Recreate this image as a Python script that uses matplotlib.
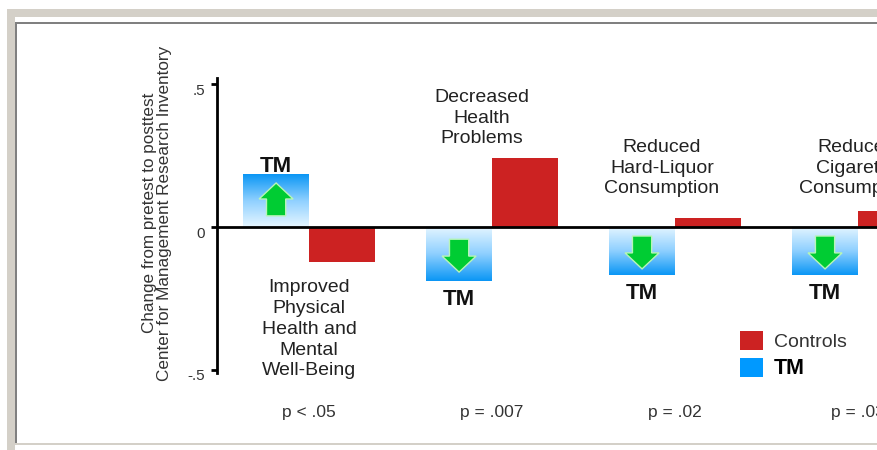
import numpy as np
import matplotlib
matplotlib.use("Agg")
import matplotlib.pyplot as plt
import matplotlib.transforms as mtransforms
from matplotlib.patches import Rectangle, Patch
from matplotlib.colors import LinearSegmentedColormap

plt.rcParams['font.family'] = ['Liberation Sans', 'DejaVu Sans']

# data
categories = ["Improved\nPhysical\nHealth and\nMental\nWell-Being",
              "Decreased\nHealth\nProblems",
              "Reduced\nHard-Liquor\nConsumption",
              "Reduced\nCigarette\nConsumption"]
tm_values = [0.182, -0.189, -0.168, -0.168]
control_values = [-0.122, 0.241, 0.031, 0.056]
p_labels = ["p < .05", "p = .007", "p = .02", "p = .03"]
y_ticks = [-0.5, 0, 0.5]
y_tick_labels = ["-.5", "0", ".5"]

# label placement (data coords)
cat_pos = [(0.0, -0.357), (0.945, 0.381), (1.929, 0.206), (2.99, 0.206)]

W, H = 877, 450
fig = plt.figure(figsize=(W / 100, H / 100), dpi=100)


def frame_rect(x0, y0, x1, y1, color):
    fig.add_artist(Rectangle((x0 / W, 1 - y1 / H), (x1 - x0) / W, (y1 - y0) / H,
                             transform=fig.transFigure, facecolor=color,
                             edgecolor='none', zorder=0))


gray = '#d4d0c8'
frame_rect(7, 9, 877, 17, gray)
frame_rect(7, 9, 15, 450, gray)
frame_rect(15, 443, 877, 445, gray)
frame_rect(15, 22, 16.5, 443, '#808080')
frame_rect(15, 22, 877, 24, '#808080')

ax = fig.add_axes([217 / W, 1 - 373 / H, 660 / W, 295 / H])
ax.patch.set_visible(False)

x = np.arange(len(categories))
bw = 0.36

ax.bar(x + bw / 2, control_values, width=bw, color='#cc2222', zorder=2)
tm_bars = ax.bar(x - bw / 2, tm_values, width=bw, color='none', edgecolor='none')

tm_cmap = LinearSegmentedColormap.from_list('tm', ['#e6f6ff', '#8fd0ff', '#0a96f5'])
grad = np.linspace(0, 1, 256).reshape(-1, 1)
for bar in tm_bars:
    x0 = bar.get_x()
    x1 = x0 + bar.get_width()
    v = bar.get_height()
    if v >= 0:
        ax.imshow(grad, cmap=tm_cmap, extent=[x0, x1, 0, v], origin='lower',
                  aspect='auto', zorder=2, interpolation='bilinear')
    else:
        ax.imshow(grad[::-1], cmap=tm_cmap, extent=[x0, x1, v, 0], origin='lower',
                  aspect='auto', zorder=2, interpolation='bilinear')
    cx = x0 + bar.get_width() / 2
    s = 1 if v >= 0 else -1
    cy = v * 0.53
    ax.arrow(cx, cy - s * 0.0575, 0, s * 0.115, width=0.105, head_width=0.186,
             head_length=0.056, length_includes_head=True, fc='#00cc33',
             ec='#b8f5b8', lw=1, zorder=3)
    ax.text(cx, v + (0.031 if v >= 0 else -0.066), "TM", ha='center', va='center',
            fontsize=16, fontweight='bold', color='#111111')

ax.set_xlim(-0.503, 3.104)
ax.set_ylim(-0.5105, 0.521)

ax.axhline(0, color='black', lw=2, zorder=4)
for side in ['top', 'right', 'bottom']:
    ax.spines[side].set_visible(False)
ax.spines['left'].set_linewidth(2)
ax.set_xticks([])
ax.set_yticks(y_ticks, y_tick_labels)
ax.tick_params(axis='y', direction='out', length=4.5, width=2, pad=4,
               labelsize=11, labelcolor='#333333')
for lab in ax.get_yticklabels():
    lab.set_transform(lab.get_transform() +
                      mtransforms.ScaledTranslation(0, -5 / 100, fig.dpi_scale_trans))

for (cxp, cyp), name in zip(cat_pos, categories):
    ax.text(cxp, cyp, name, ha='center', va='center', multialignment='center',
            fontsize=14, color='#222222', linespacing=1.3, clip_on=False)

for xi, p in zip(x, p_labels):
    ax.text(xi, -0.650, p, ha='center', va='center', fontsize=12.5,
            color='#333333', clip_on=False)

fig.text(157 / W, 1 - 213 / H,
         "Change from pretest to posttest\nCenter for Management Research Inventory",
         rotation=90, ha='center', va='center', multialignment='center',
         fontsize=12.3, color='#333333', linespacing=0.95)

handles = [Patch(facecolor='#cc2222'), Patch(facecolor='#0099ff')]
leg = fig.legend(handles, ["Controls", "TM"], loc='upper left',
                 bbox_to_anchor=(740 / W, 1 - 331 / H), frameon=False,
                 borderpad=0, borderaxespad=0, handlelength=1.2, handleheight=1.15,
                 handletextpad=0.55, labelspacing=0.35, fontsize=14)
leg.get_texts()[0].set_color('#333333')
leg.get_texts()[1].set_fontweight('bold')
leg.get_texts()[1].set_fontsize(15.5)

fig.savefig('out.png', dpi=100)
